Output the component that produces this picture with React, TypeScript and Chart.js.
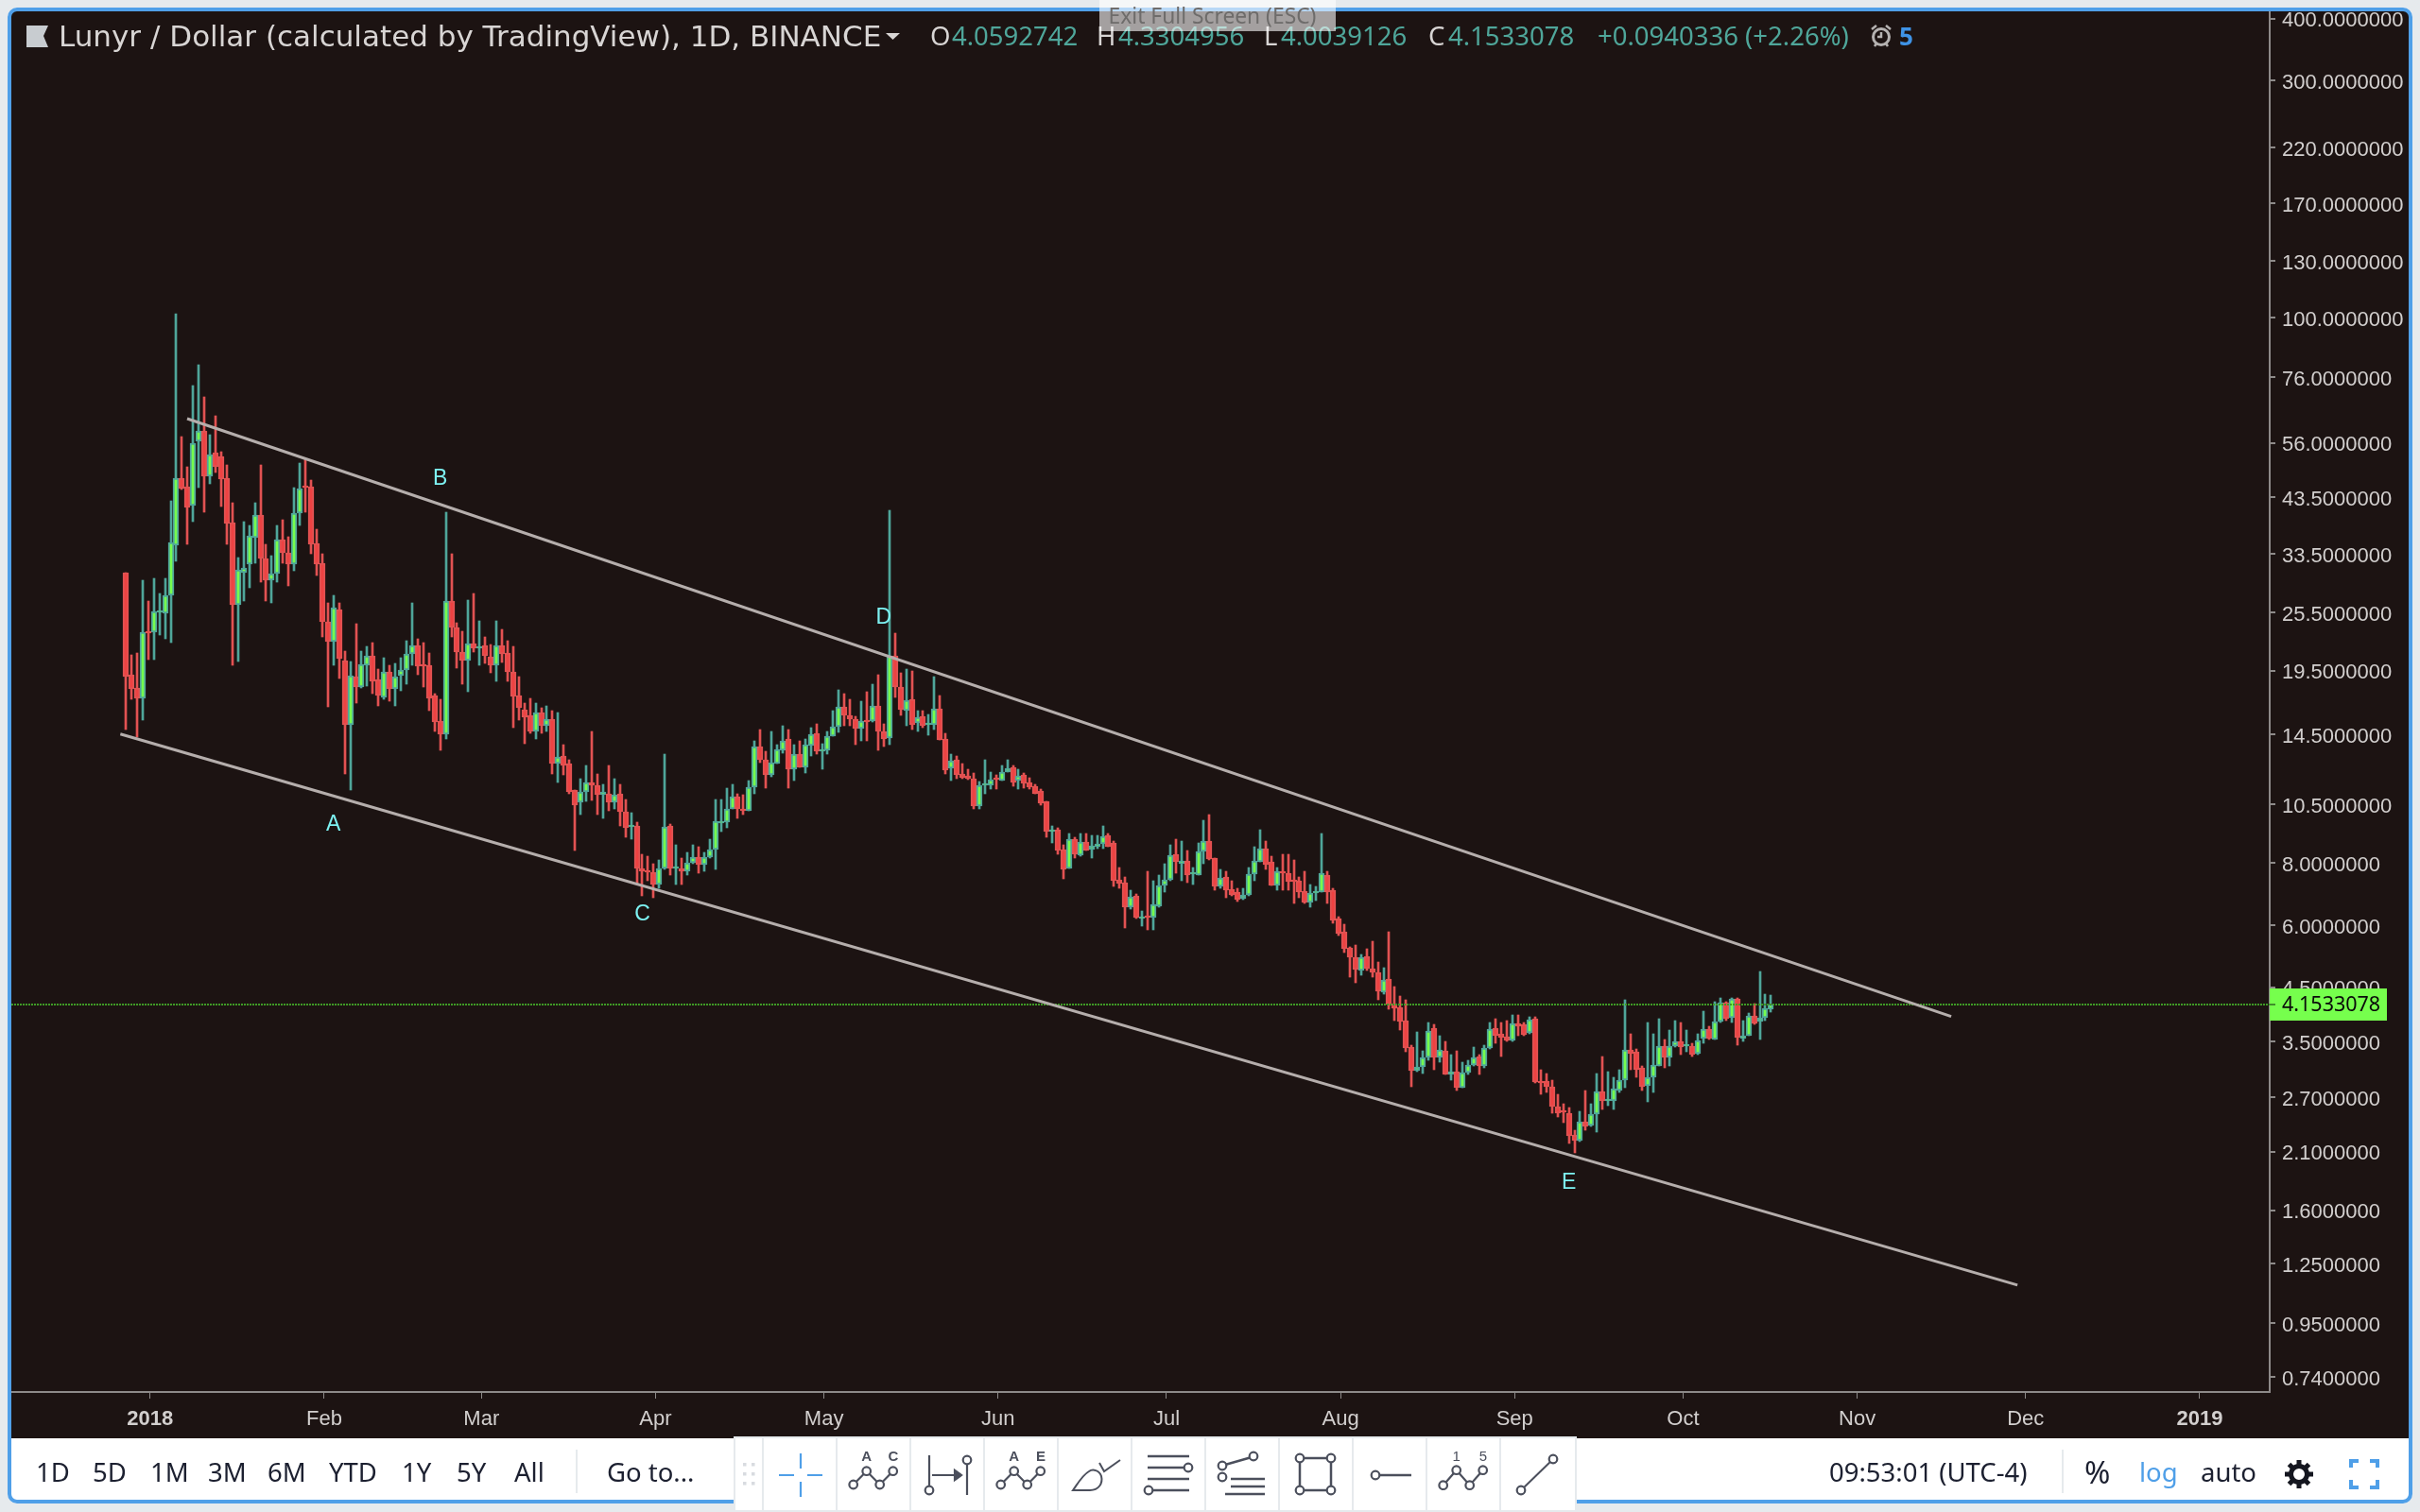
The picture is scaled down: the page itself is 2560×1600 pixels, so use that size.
import React, { useEffect, useRef } from "react";
import { Chart, registerables } from "chart.js";

Chart.register(...registerables);

// Candles, one per day, the first one being 4 days before 1 Jan 2018
const firstDay = -4;
const opens = [
  30.7, 19.14, 18.0, 17.15, 23.3, 23.3, 25.6, 25.4, 27.7, 34.8,
  47.5, 45.7, 41.9, 56.4, 59.2, 47.9, 53.5, 52.6, 47.5, 38.7,
  26.5, 30.7, 32.0, 36.1, 40.1, 32.8, 29.7, 30.6, 35.8, 33.6,
  32.0, 40.4, 45.7, 45.7, 35.2, 32.1, 24.5, 22.3, 25.9, 20.4,
  15.2, 19.0, 18.1, 20.0, 20.9, 18.7, 17.2, 19.4, 17.9, 19.05,
  19.6, 21.1, 21.9, 20.0, 20.0, 17.4, 15.45, 14.5, 26.9, 23.8,
  21.3, 20.4, 22.1, 21.6, 21.9, 20.8, 20.0, 21.9, 21.2, 19.4,
  17.4, 16.3, 15.85, 14.7, 16.1, 15.1, 15.6, 12.7, 13.14, 12.7,
  11.2, 10.6, 11.1, 11.6, 11.45, 11.0, 11.03, 10.6, 11.03, 10.15,
  9.45, 9.5, 7.8, 7.74, 7.67, 7.25, 7.8, 9.5, 7.8, 7.8,
  7.7, 8.0, 8.23, 7.95, 8.22, 8.52, 9.63, 9.67, 10.3, 10.9,
  10.3, 10.2, 11.37, 13.72, 12.9, 12.03, 12.7, 13.5, 14.2, 12.35,
  13.25, 12.45, 13.8, 14.6, 13.45, 13.5, 14.4, 15.05, 16.5, 15.85,
  15.6, 14.9, 15.45, 15.45, 16.6, 14.7, 14.3, 20.9, 18.1, 16.2,
  17.08, 15.3, 15.8, 15.2, 15.2, 16.35, 14.2, 12.4, 12.9, 12.08,
  12.0, 11.85, 10.4, 11.45, 11.45, 11.85, 11.73, 12.2, 12.45, 11.7,
  12.03, 11.6, 11.4, 11.15, 10.65, 9.26, 9.33, 8.52, 7.8, 8.94,
  8.3, 8.82, 8.52, 8.63, 8.74, 9.1, 8.78, 7.4, 7.31, 6.52,
  6.87, 6.19, 6.24, 6.21, 6.55, 7.21, 7.4, 8.33, 7.96, 8.09,
  7.6, 7.57, 8.45, 8.86, 8.2, 7.18, 7.5, 7.09, 6.99, 6.78,
  6.9, 7.6, 8.05, 8.55, 8.05, 7.21, 7.7, 7.63, 7.36, 7.38,
  7.03, 6.66, 6.96, 7.0, 7.57, 7.06, 6.18, 5.82, 5.4, 5.17,
  4.87, 5.2, 4.91, 4.82, 4.4, 4.68, 4.17, 4.1, 3.86, 3.41,
  3.06, 3.11, 3.25, 3.72, 3.25, 3.35, 3.01, 3.05, 2.83, 3.03,
  3.14, 3.27, 3.12, 3.4, 3.72, 3.62, 3.58, 3.52, 3.8, 3.79,
  3.65, 3.89, 2.91, 2.91, 2.84, 2.59, 2.53, 2.51, 2.27, 2.21,
  2.41, 2.37, 2.5, 2.78, 2.66, 2.66, 2.79, 2.93, 3.37, 3.33,
  3.1, 2.85, 2.96, 3.13, 3.43, 3.25, 3.42, 3.5, 3.42, 3.43,
  3.31, 3.55, 3.71, 3.53, 3.84, 4.19, 3.9, 4.27, 3.55, 3.6,
  3.94, 3.84, 3.9, 4.0592742,
];
const closes = [
  18.97, 17.92, 17.15, 23.3, 23.2, 25.7, 25.7, 27.7, 35.4, 47.5,
  45.3, 41.5, 56.0, 59.2, 47.9, 53.1, 50.1, 47.3, 38.5, 26.5,
  31.1, 31.4, 36.5, 40.1, 32.8, 29.7, 30.6, 35.8, 33.6, 32.0,
  40.4, 45.3, 45.5, 35.0, 32.0, 24.5, 22.3, 26.1, 20.6, 15.2,
  19.05, 18.1, 20.1, 20.9, 18.6, 17.4, 19.4, 17.9, 19.0, 19.6,
  21.1, 21.9, 19.9, 19.9, 17.15, 15.4, 14.5, 26.9, 23.8, 21.3,
  20.4, 22.1, 21.6, 21.7, 20.9, 20.0, 21.9, 21.1, 19.4, 17.3,
  16.4, 15.7, 14.7, 16.1, 15.1, 15.6, 12.7, 13.1, 12.57, 11.1,
  10.45, 11.1, 11.6, 11.45, 11.0, 11.1, 10.6, 11.0, 10.15, 9.42,
  9.47, 7.8, 7.7, 7.66, 7.25, 7.8, 9.47, 7.8, 7.87, 7.7,
  8.0, 8.23, 7.95, 8.23, 8.52, 9.7, 9.7, 10.3, 10.9, 10.3,
  10.2, 11.37, 13.72, 12.9, 12.03, 12.75, 13.55, 14.1, 12.35, 13.25,
  12.45, 13.85, 14.5, 13.4, 13.55, 14.4, 15.05, 16.5, 15.85, 15.6,
  14.9, 15.45, 15.4, 16.6, 14.7, 14.2, 20.9, 18.1, 16.3, 17.0,
  15.2, 15.7, 15.1, 15.25, 16.35, 14.15, 12.3, 12.85, 12.03, 11.9,
  11.85, 10.4, 11.45, 11.52, 11.75, 11.75, 12.2, 12.4, 11.6, 12.0,
  11.55, 11.35, 11.03, 10.56, 9.26, 9.33, 8.48, 7.77, 8.94, 8.33,
  8.82, 8.48, 8.66, 8.74, 9.05, 8.63, 7.38, 7.28, 6.52, 6.84,
  6.21, 6.21, 6.21, 6.6, 7.21, 7.4, 8.3, 8.05, 8.09, 7.57,
  7.63, 8.45, 8.86, 8.15, 7.18, 7.47, 7.06, 6.9, 6.75, 6.9,
  7.6, 8.09, 8.55, 7.95, 7.21, 7.7, 7.63, 7.34, 7.34, 6.99,
  6.66, 6.96, 7.03, 7.63, 7.0, 6.12, 5.77, 5.38, 5.17, 4.89,
  5.18, 4.91, 4.82, 4.42, 4.66, 4.16, 4.08, 3.84, 3.4, 3.06,
  3.11, 3.25, 3.68, 3.25, 3.37, 3.01, 3.05, 2.82, 3.03, 3.14,
  3.25, 3.13, 3.4, 3.71, 3.6, 3.57, 3.52, 3.8, 3.76, 3.61,
  3.88, 2.9, 2.89, 2.84, 2.59, 2.51, 2.52, 2.26, 2.21, 2.41,
  2.36, 2.5, 2.78, 2.66, 2.67, 2.81, 2.93, 3.37, 3.31, 3.07,
  2.84, 2.96, 3.14, 3.43, 3.25, 3.43, 3.5, 3.41, 3.43, 3.29,
  3.52, 3.71, 3.55, 3.84, 4.19, 3.89, 4.27, 3.57, 3.6, 3.94,
  3.8, 3.9, 4.08, 4.1533078,
];
const highs = [
  30.7, 21.0, 21.2, 29.7, 26.9, 29.9, 27.9, 29.9, 42.8, 102,
  57.7, 50.1, 73.0, 80.5, 69.3, 58.2, 63.5, 53.8, 50.5, 42.4,
  32.9, 38.9, 38.2, 42.4, 50.5, 35.0, 33.2, 38.2, 39.2, 36.2,
  45.5, 51.0, 51.9, 47.1, 37.5, 33.5, 26.7, 27.6, 26.7, 21.4,
  20.35, 24.2, 21.4, 21.8, 22.2, 19.65, 20.7, 20.0, 20.2, 20.7,
  22.4, 26.7, 22.6, 22.2, 21.2, 17.5, 17.08, 40.6, 33.5, 24.4,
  23.4, 27.1, 27.9, 24.6, 22.8, 22.0, 24.6, 23.6, 22.4, 21.8,
  19.0, 16.8, 17.15, 16.8, 16.4, 16.6, 16.2, 16.05, 13.85, 12.9,
  11.2, 11.8, 12.57, 14.7, 12.1, 11.52, 12.57, 11.8, 11.52, 10.75,
  10.1, 9.67, 8.33, 8.26, 7.96, 8.12, 13.25, 9.6, 8.7, 8.2,
  8.4, 8.7, 8.63, 8.4, 8.94, 10.75, 10.75, 11.3, 11.52, 11.03,
  11.0, 11.72, 14.1, 14.85, 13.4, 14.7, 13.85, 15.1, 14.85, 13.85,
  14.1, 14.2, 14.98, 15.25, 13.9, 14.7, 16.2, 17.84, 17.5, 17.08,
  15.8, 16.9, 17.7, 18.3, 19.1, 15.25, 41.0, 23.2, 19.3, 19.65,
  19.48, 16.2, 16.2, 15.95, 19.0, 17.4, 14.6, 13.25, 13.14, 12.7,
  12.35, 12.15, 11.65, 12.9, 12.2, 12.03, 12.57, 12.9, 12.57, 12.35,
  12.15, 11.9, 11.52, 11.25, 10.65, 9.5, 9.42, 8.7, 9.18, 9.0,
  9.18, 9.18, 9.1, 9.1, 9.5, 9.18, 8.86, 7.84, 7.5, 7.06,
  6.94, 6.4, 7.7, 7.38, 7.57, 7.96, 8.7, 8.94, 8.86, 8.48,
  7.84, 8.78, 9.75, 10.0, 8.2, 7.77, 7.7, 7.38, 7.12, 7.12,
  7.84, 8.63, 9.33, 8.86, 8.26, 7.84, 8.33, 8.33, 8.12, 7.5,
  7.7, 7.25, 7.18, 9.18, 7.7, 7.12, 6.24, 6.03, 5.42, 5.47,
  5.24, 5.38, 5.57, 5.06, 4.93, 5.82, 4.52, 4.32, 4.25, 3.44,
  3.66, 3.35, 3.82, 3.79, 3.59, 3.5, 3.29, 3.35, 3.18, 3.21,
  3.41, 3.29, 3.44, 3.82, 3.89, 3.82, 3.86, 3.96, 3.96, 3.82,
  3.93, 3.93, 3.07, 3.02, 2.92, 2.74, 2.62, 2.58, 2.32, 2.53,
  2.79, 2.62, 3.02, 3.27, 3.05, 2.97, 3.07, 4.25, 3.62, 3.38,
  3.12, 3.82, 3.62, 3.89, 3.53, 3.69, 3.86, 3.82, 3.69, 3.47,
  3.62, 4.03, 3.75, 4.21, 4.29, 4.21, 4.29, 4.29, 3.86, 4.0,
  4.17, 4.84, 4.36, 4.3304956,
];
const lows = [
  14.85, 17.08, 14.34, 15.5, 20.5, 20.5, 23.0, 22.6, 22.2, 32.3,
  45.1, 35.0, 38.9, 45.5, 40.6, 46.3, 48.8, 41.7, 35.0, 20.0,
  20.35, 26.9, 28.6, 32.1, 29.4, 26.9, 26.7, 29.4, 32.1, 28.9,
  31.0, 38.2, 40.6, 33.5, 30.3, 22.8, 16.5, 20.0, 18.8, 12.1,
  11.2, 16.8, 18.0, 18.2, 17.5, 16.6, 17.08, 16.9, 16.6, 17.8,
  18.3, 20.0, 19.1, 18.1, 16.2, 14.7, 13.5, 14.2, 22.8, 19.7,
  18.3, 17.7, 21.3, 20.0, 20.2, 19.3, 18.6, 20.3, 18.6, 15.0,
  15.5, 13.9, 14.6, 14.2, 14.6, 14.7, 12.1, 11.6, 12.03, 11.03,
  8.48, 10.0, 10.65, 10.7, 10.0, 9.85, 10.2, 10.3, 9.5, 9.0,
  8.94, 7.25, 6.87, 7.38, 6.81, 7.12, 7.78, 7.57, 7.25, 7.25,
  7.57, 7.99, 7.63, 7.7, 8.2, 7.77, 9.26, 9.42, 10.28, 9.85,
  10.0, 10.18, 11.03, 12.75, 11.3, 11.93, 12.7, 13.3, 11.3, 11.72,
  12.45, 12.15, 13.14, 13.25, 12.35, 13.25, 14.38, 14.65, 15.1, 15.1,
  13.85, 14.1, 14.1, 15.4, 13.5, 13.72, 13.85, 17.2, 15.85, 15.1,
  14.85, 14.7, 14.98, 14.45, 14.85, 14.15, 12.1, 11.72, 11.8, 11.8,
  11.75, 10.3, 10.3, 11.03, 11.25, 11.25, 11.7, 12.18, 11.4, 11.25,
  11.3, 11.25, 11.03, 10.45, 9.0, 8.78, 8.33, 7.44, 7.79, 8.2,
  8.26, 8.48, 8.2, 8.55, 8.55, 8.63, 7.18, 7.12, 5.92, 6.46,
  6.18, 5.97, 5.87, 5.87, 6.52, 6.99, 7.38, 7.63, 7.38, 7.31,
  7.25, 7.57, 7.96, 8.12, 7.06, 7.12, 6.81, 6.87, 6.69, 6.75,
  6.87, 7.38, 8.05, 7.77, 7.21, 7.06, 7.06, 7.06, 6.63, 6.81,
  6.63, 6.52, 6.72, 6.99, 6.63, 6.05, 5.72, 5.29, 4.72, 4.6,
  4.76, 4.87, 4.72, 4.25, 4.36, 4.07, 3.86, 3.69, 3.33, 2.84,
  3.05, 3.02, 3.21, 3.07, 3.18, 3.0, 2.92, 2.79, 2.82, 3.01,
  3.12, 3.0, 3.1, 3.38, 3.47, 3.27, 3.5, 3.5, 3.59, 3.59,
  3.62, 2.89, 2.74, 2.77, 2.51, 2.47, 2.4, 2.18, 2.09, 2.2,
  2.32, 2.36, 2.3, 2.56, 2.6, 2.56, 2.77, 2.82, 3.07, 2.97,
  2.79, 2.65, 2.77, 3.12, 3.1, 3.12, 3.41, 3.29, 3.34, 3.27,
  3.29, 3.47, 3.53, 3.53, 3.82, 3.86, 3.82, 3.44, 3.5, 3.59,
  3.79, 3.53, 3.86, 4.0039126,
];

// Axes
const yTickValues = [400, 300, 220, 170, 130, 100, 76, 56, 43.5, 33.5, 25.5, 19.5, 14.5, 10.5, 8, 6, 4.5, 3.5, 2.7, 2.1, 1.6, 1.25, 0.95, 0.74];
const xTickDays = [0, 31, 59, 90, 120, 151, 181, 212, 243, 273, 304, 334, 365];
const xTickLabels = ["2018", "Feb", "Mar", "Apr", "May", "Jun", "Jul", "Aug", "Sep", "Oct", "Nov", "Dec", "2019"];
const yearLabels = ["2018", "2019"];

// Channel drawn over the price
const upperTrendDays = [6.94, 321.1];
const upperTrendPrices = [62.7, 3.93];
const lowerTrendDays = [-4.96, 332.9];
const lowerTrendPrices = [14.54, 1.132];

// Wave labels
const waveLabels = ["A", "B", "C", "D", "E"];
const waveDays = [33, 52, 88, 131, 253];
const wavePrices = [9.67, 48.0, 6.38, 25.3, 1.84];

const lastPrice = 4.1533078;
const lastPriceText = "4.1533078";

const X_MIN = -24.37;
const X_MAX = 377.82;
const Y_MIN = 0.69;
const Y_MAX = 413.7;
const TICK_SHIFT = 0.35;

const TEAL = "#4fa69a";
const LIME = "#76ff4d";
const RED = "#e25252";
const RED_FILL = "#ee4242";
const DARK = "#1c1312";
const PAGE = "#e6eaed";
const BLUE = "#4f9fe8";
const AXIS = "#8d8a89";
const AXIS_TEXT = "#d2cfce";
const INK = "#4b4f5c";
const UI_FONT = '"Noto Sans", sans-serif';

const days = opens.map((_, i) => firstDay + i);
const isUp = opens.map((o, i) => closes[i] >= o);

const snapBars = {
  id: "snapBars",
  beforeDatasetsDraw(chart: any) {
    chart.data.datasets.forEach((ds: any, i: number) => {
      if (ds.type !== "bar") return;
      chart.getDatasetMeta(i).data.forEach((el: any) => {
        el.x = Math.round(el.x);
        el.y = Math.round(el.y);
        el.base = Math.round(el.base);
      });
    });
  },
};

const overlays = {
  id: "overlays",
  afterDraw(chart: any) {
    const { ctx, scales } = chart;
    const x = scales.x;
    const y = scales.y;
    ctx.save();
    ctx.fillStyle = "#7df2f2";
    ctx.font = '23px "Liberation Sans", sans-serif';
    ctx.textAlign = "center";
    ctx.textBaseline = "middle";
    waveLabels.forEach((t, i) => {
      ctx.fillText(t, x.getPixelForValue(waveDays[i]), y.getPixelForValue(wavePrices[i]) + 3);
    });
    const py = Math.round(y.getPixelForValue(lastPrice));
    ctx.fillStyle = LIME;
    ctx.fillRect(x.right, py - 17, 124, 34);
    ctx.fillStyle = "#3f8f2a";
    ctx.fillRect(x.right, py - 1, 6, 2);
    ctx.fillStyle = "#0a0a0a";
    ctx.font = `21.5px ${UI_FONT}`;
    ctx.textAlign = "left";
    ctx.fillText(lastPriceText, x.right + 13, py + 1);
    ctx.restore();
  },
};

function ChartCanvas() {
  const ref = useRef<HTMLCanvasElement>(null);
  useEffect(() => {
    const chart = new Chart(ref.current as HTMLCanvasElement, {
      type: "bar",
      data: {
        datasets: [
          {
            type: "line",
            data: upperTrendDays.map((d, i) => ({ x: d, y: upperTrendPrices[i] })),
            borderColor: "#b5aeac",
            borderWidth: 3,
            pointRadius: 0,
            order: 0,
          },
          {
            type: "line",
            data: lowerTrendDays.map((d, i) => ({ x: d, y: lowerTrendPrices[i] })),
            borderColor: "#b5aeac",
            borderWidth: 3,
            pointRadius: 0,
            order: 0,
          },
          {
            type: "line",
            data: [
              { x: X_MIN, y: lastPrice },
              { x: X_MAX, y: lastPrice },
            ],
            borderColor: "#3f9a26",
            borderWidth: 2,
            borderDash: [2, 1],
            pointRadius: 0,
            order: 0,
          },
          {
            type: "bar",
            data: days.map((d, i) => ({ x: d, y: [opens[i], closes[i]] })),
            backgroundColor: isUp.map((u) => (u ? LIME : RED_FILL)),
            borderColor: isUp.map((u) => (u ? TEAL : RED)),
            borderWidth: 2,
            borderSkipped: false,
            barThickness: 6,
            minBarLength: 2,
            grouped: false,
            order: 1,
          },
          {
            type: "bar",
            data: days.map((d, i) => ({ x: d, y: [lows[i], highs[i]] })),
            backgroundColor: isUp.map((u) => (u ? TEAL : RED)),
            borderWidth: 0,
            barThickness: 2,
            grouped: false,
            order: 2,
          },
        ],
      } as any,
      options: {
        responsive: false,
        animation: false,
        devicePixelRatio: 1,
        events: [],
        layout: { padding: { left: 12, top: 12, right: 12, bottom: 78 } },
        plugins: { legend: { display: false }, title: { display: false }, tooltip: { enabled: false } },
        scales: {
          x: {
            type: "linear",
            min: X_MIN,
            max: X_MAX,
            bounds: "data",
            offset: false,
            afterBuildTicks(axis: any) {
              axis.ticks = xTickDays.map((d) => ({ value: d + TICK_SHIFT }));
            },
            afterFit(axis: any) {
              axis.height = 49;
              axis.paddingLeft = 0;
              axis.paddingRight = 0;
            },
            grid: { display: true, offset: false, drawOnChartArea: false, drawTicks: true, tickLength: 7, color: AXIS, lineWidth: 1 },
            border: { display: true, color: AXIS, width: 2 },
            ticks: {
              autoSkip: false,
              maxRotation: 0,
              padding: 9,
              color: AXIS_TEXT,
              font: (ctx: any) => ({
                family: '"Liberation Sans", sans-serif',
                size: 22,
                weight: yearLabels.includes(xTickLabels[ctx.index]) ? "bold" : "normal",
              }),
              callback: (_v: any, i: number) => xTickLabels[i],
            },
          },
          y: {
            type: "logarithmic",
            position: "right",
            min: Y_MIN,
            max: Y_MAX,
            bounds: "data",
            afterBuildTicks(axis: any) {
              axis.ticks = yTickValues.map((v) => ({ value: v }));
            },
            afterFit(axis: any) {
              axis.width = 147;
              axis.paddingTop = 0;
              axis.paddingBottom = 0;
            },
            grid: { display: true, drawOnChartArea: false, drawTicks: true, tickLength: 6, color: AXIS, lineWidth: 2 },
            border: { display: true, color: AXIS, width: 2 },
            ticks: {
              autoSkip: false,
              padding: 7,
              labelOffset: 2.5,
              color: AXIS_TEXT,
              font: { family: '"Liberation Sans", sans-serif', size: 22 },
              callback: (v: any) => Number(v).toFixed(7),
            },
          },
        },
      } as any,
      plugins: [snapBars, overlays],
    });
    return () => chart.destroy();
  }, []);
  return <canvas ref={ref} width={2560} height={1600} style={{ position: "absolute", left: 0, top: 0, width: 2560, height: 1600, zIndex: 1 }} />;
}

const abs = (left: number, top: number, extra: React.CSSProperties = {}): React.CSSProperties => ({
  position: "absolute",
  left,
  top,
  whiteSpace: "nowrap",
  lineHeight: "36px",
  fontFamily: UI_FONT,
  ...extra,
});

const headerLabels: [string, number, string][] = [
  ["O", 984, "#d8d5d4"],
  ["4.0592742", 1007, TEAL],
  ["H", 1160, "#d8d5d4"],
  ["4.3304956", 1183, TEAL],
  ["L", 1337, "#d8d5d4"],
  ["4.0039126", 1355, TEAL],
  ["C", 1511, "#d8d5d4"],
  ["4.1533078", 1532, TEAL],
  ["+0.0940336 (+2.26%)", 1690, TEAL],
];
const rangeButtons: [string, number][] = [
  ["1D", 38], ["5D", 98], ["1M", 159], ["3M", 220], ["6M", 283], ["YTD", 348], ["1Y", 425], ["5Y", 483], ["All", 544], ["Go to...", 642],
];
const rightLabels: [string, number, string][] = [
  ["09:53:01 (UTC-4)", 1935, "#1c2030"],
  ["log", 2263, BLUE],
  ["auto", 2328, "#1c2030"],
];

function Dot({ x, y }: { x: number; y: number }) {
  return <circle cx={x} cy={y} r={4.3} fill="#fff" stroke={INK} strokeWidth={2.2} />;
}
function Wave({ ox, a, b, bold }: { ox: number; a: string; b: string; bold: boolean }) {
  const xs = [16.7, 30.7, 44.7, 58.7];
  const ys = bold ? [51, 36.7, 51, 36.7] : [51.7, 35.7, 51.7, 35.7];
  return (
    <g transform={`translate(${ox} 0)`}>
      <polyline points={xs.map((x, i) => `${x},${ys[i]}`).join(" ")} fill="none" stroke={INK} strokeWidth={2.2} />
      {xs.map((x, i) => <Dot key={i} x={x} y={ys[i]} />)}
      <text x={30.7} y={26} textAnchor="middle" fontSize={15} fontWeight={bold ? 700 : 400} fill={INK} fontFamily='"Liberation Sans"'>{a}</text>
      <text x={59} y={26} textAnchor="middle" fontSize={15} fontWeight={bold ? 700 : 400} fill={INK} fontFamily='"Liberation Sans"'>{b}</text>
    </g>
  );
}

function FloatingTools() {
  const seps = [806, 884, 962, 1040, 1118, 1196, 1274, 1352, 1430, 1508, 1586].map((x) => x - 776);
  return (
    <svg width={892} height={80} style={{ position: "absolute", left: 776, top: 1520, zIndex: 3, display: "block" }}>
      <rect x={0} y={0} width={892} height={80} fill="#fff" />
      <rect x={0} y={0} width={892} height={2} fill={PAGE} />
      <rect x={0} y={78} width={892} height={2} fill={PAGE} />
      <rect x={0} y={0} width={2} height={80} fill={PAGE} />
      <rect x={890} y={0} width={2} height={80} fill={PAGE} />
      {seps.map((x) => <rect key={x} x={x} y={0} width={2} height={80} fill={PAGE} />)}
      {[10, 19].map((x) => [30, 40, 50].map((y) => <rect key={`${x}-${y}`} x={x} y={y - 2} width={3.5} height={3.5} fill="#d8dbe0" />))}
      <g transform="translate(32 0)" stroke={BLUE} strokeWidth={2.2}>
        <path d="M39 18V34M39 48V64M16 41H32M46 41H62" fill="none" />
      </g>
      <Wave ox={110} a="A" b="C" bold={true} />
      <g transform="translate(188 0)" stroke={INK} strokeWidth={2.2} fill="none">
        <path d="M19 20V53M59 29V62M22 41H49" />
        <path d="M46 36L53 41L46 46Z" fill={INK} />
        <Dot x={19} y={57} />
        <Dot x={59} y={25} />
      </g>
      <Wave ox={266} a="A" b="E" bold={true} />
      <g transform="translate(344 0)" stroke={INK} strokeWidth={2} fill="none">
        <path d="M15 57L33 57C42 57 47 50 45 42C43 36 36 34 32 37C25 41 20 50 15 57Z" />
        <path d="M43 28L48 37L65 25" />
      </g>
      <g transform="translate(422 0)" stroke={INK} strokeWidth={2.5} fill="none">
        <path d="M16 21H60M16 33H56M16 45H60M21 57H60" />
        <Dot x={59} y={33} />
        <Dot x={17} y={57} />
      </g>
      <g transform="translate(500 0)" stroke={INK} strokeWidth={2.5} fill="none">
        <path d="M20 30L48 22M26 45H62M26 53H62M20 61H62" />
        <Dot x={17} y={31} />
        <Dot x={17} y={43} />
        <Dot x={50} y={21} />
      </g>
      <g transform="translate(578 0)" stroke={INK} strokeWidth={2.5} fill="none">
        <rect x={21} y={23} width={33} height={34} />
        <Dot x={21} y={23} />
        <Dot x={54} y={23} />
        <Dot x={21} y={57} />
        <Dot x={54} y={57} />
      </g>
      <g transform="translate(656 0)" stroke={INK} strokeWidth={2.5} fill="none">
        <path d="M27 41H61" />
        <Dot x={23} y={41} />
      </g>
      <Wave ox={734} a="1" b="5" bold={false} />
      <g transform="translate(812 0)" stroke={INK} strokeWidth={2} fill="none">
        <path d="M21 57L55 24" />
        <Dot x={21} y={57} />
        <Dot x={55} y={24} />
      </g>
    </svg>
  );
}

export default function App() {
  return (
    <div style={{ position: "fixed", left: 0, top: 0, width: 2560, height: 1600, overflow: "hidden", background: PAGE }}>
      <div style={{ position: "absolute", left: 8, top: 8, width: 2544, height: 1583, boxSizing: "border-box", background: "#fff", borderRadius: 10, zIndex: 0 }} />
      <div style={{ position: "absolute", left: 12, top: 12, width: 2536, height: 1510, background: DARK, zIndex: 0 }} />
      <ChartCanvas />
      <div style={{ position: "absolute", left: 0, top: 0, width: 2560, height: 8, background: PAGE, zIndex: 2 }} />
      <div style={{ position: "absolute", left: 8, top: 8, width: 2544, height: 1583, boxSizing: "border-box", border: `4px solid ${BLUE}`, borderRadius: 10, zIndex: 2 }} />

      <div style={{ zIndex: 2, position: "absolute", left: 0, top: 0, width: 2560, height: 1600, fontSize: 27.5 }}>
        <svg width={60} height={40} style={{ position: "absolute", left: 20, top: 20 }}>
          <polygon points="8,7 31,7 26,18 31,30 8,30" fill="#c8ccd0" />
        </svg>
        <div style={abs(62, 20, { color: "#d8d5d4", fontSize: 31, fontFamily: '"DejaVu Sans", sans-serif' })}>Lunyr / Dollar (calculated by TradingView), 1D, BINANCE</div>
        <svg width={20} height={12} style={{ position: "absolute", left: 935, top: 33 }}>
          <polygon points="2,2 17,2 9.5,9" fill="#d8d5d4" />
        </svg>
        {headerLabels.map(([t, x, c]) => <div key={x} style={abs(x, 20, { color: c })}>{t}</div>)}
        <svg width={28} height={30} style={{ position: "absolute", left: 1977, top: 24 }}>
          <circle cx={13} cy={15} r={8.5} fill="none" stroke="#b5b2b1" strokeWidth={3} />
          <path d="M13 10V15H9M3 7L8 3M23 7L18 3M6 25L8 22M20 25L18 22" fill="none" stroke="#b5b2b1" strokeWidth={2.5} />
        </svg>
        <div style={abs(2009, 20, { color: "#3f93e6", fontSize: 26, fontWeight: 700 })}>5</div>

        {rangeButtons.map(([t, x]) => <div key={t} style={abs(x, 1540, { color: "#1c2030" })}>{t}</div>)}
        <div style={{ position: "absolute", left: 609, top: 1534, width: 2, height: 46, background: PAGE }} />
        <div style={{ position: "absolute", left: 2181, top: 1534, width: 2, height: 46, background: PAGE }} />
        {rightLabels.map(([t, x, c]) => <div key={t} style={abs(x, 1540, { color: c })}>{t}</div>)}
        <div style={abs(2205, 1540, { color: "#1c2030", fontSize: 33 })}>%</div>
        <svg width={40} height={40} style={{ position: "absolute", left: 2412, top: 1540 }}>
          <circle cx={20} cy={20} r={8.5} fill="none" stroke="#14161f" strokeWidth={5} />
          <path d="M20 5V10M20 30V35M5 20H10M30 20H35M9.5 9.5L13 13M27 27L30.5 30.5M30.5 9.5L27 13M13 27L9.5 30.5" stroke="#14161f" strokeWidth={5} />
        </svg>
        <svg width={34} height={34} style={{ position: "absolute", left: 2484, top: 1543 }}>
          <path d="M3 10V3H11M23 3H31V10M31 23V31H23M11 31H3V23" fill="none" stroke={BLUE} strokeWidth={4} />
        </svg>
      </div>
      <FloatingTools />
      <div style={{ position: "absolute", left: 1163, top: 0, width: 250, height: 33, boxSizing: "border-box", paddingRight: 11, background: "rgba(255,255,255,0.6)", zIndex: 4, textAlign: "center", lineHeight: "33px", fontFamily: UI_FONT, fontSize: 22.8, color: "#6e6c6b", whiteSpace: "nowrap" }}>
        Exit Full Screen (ESC)
      </div>
    </div>
  );
}
